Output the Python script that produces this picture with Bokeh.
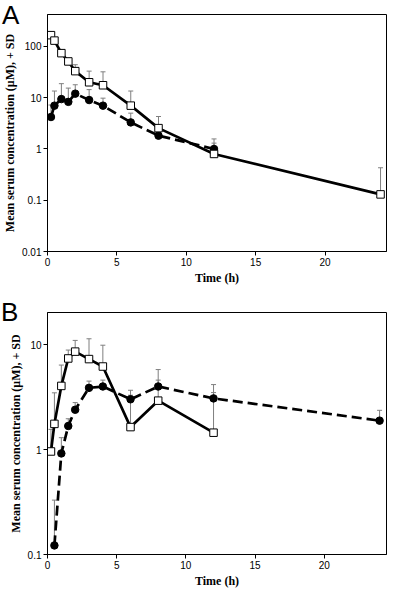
from bokeh.plotting import figure
from bokeh.models import (Range1d, FixedTicker, CustomJSTickFormatter, Whisker,
                          TeeHead, ColumnDataSource, Div)
from bokeh.layouts import column
from bokeh.embed import file_html
from bokeh.resources import INLINE

# ---------------- data ----------------
x_ticks = [0, 5, 10, 15, 20]

# Panel A
a_y_ticks = [0.01, 0.1, 1, 10, 100]
a_sq_t = [0.25, 0.5, 1, 1.5, 2, 3, 4, 6, 8, 12, 24]
a_sq_mean = [166, 130, 74, 51, 33, 20, 17.5, 7.0, 2.55, 0.8, 0.13]
a_sq_upper = [180, 145, 85, 58, 44, 33, 32, 13.5, 4.3, 1.57, 0.43]
a_ci_t = [0.25, 0.5, 1, 1.5, 2, 3, 4, 6, 8, 12]
a_ci_mean = [4.2, 7.0, 9.4, 8.3, 12.0, 9.0, 7.0, 3.3, 1.82, 1.0]
a_ci_upper = [7.2, 13.5, 18.8, 15.4, 17.9, 14.4, 9.8, 5.0, 2.2, 1.3]

# Panel B
b_y_ticks = [0.1, 1, 10]
b_sq_t = [0.25, 0.5, 1, 1.5, 2, 3, 4, 6, 8, 12]
b_sq_mean = [0.96, 1.76, 4.05, 7.4, 8.6, 7.3, 6.2, 1.64, 2.93, 1.45]
b_sq_upper = [1.56, 3.48, 6.4, 8.9, 11.0, 11.4, 9.9, 3.68, 5.8, 4.17]
b_ci_t = [0.5, 1, 1.5, 2, 3, 4, 6, 8, 12, 24]
b_ci_mean = [0.122, 0.92, 1.68, 2.4, 3.88, 4.0, 3.02, 4.0, 3.08, 1.89]
b_ci_upper = [0.33, 1.3, 1.97, 2.81, 4.5, 4.6, 3.3, 4.6, 3.5, 2.37]

Y_TITLE = "Mean serum concentration (\u03bcM), + SD"
X_TITLE = "Time (h)"
WIDTH = 399


def make_panel(height, borders, xmax, yr, yticks,
               sq_t, sq_m, sq_u, ci_t, ci_m, ci_u):
    top, bottom, left, right = borders
    p = figure(width=WIDTH, height=height, y_axis_type="log",
               x_range=Range1d(0, xmax), y_range=Range1d(*yr),
               output_backend="svg", toolbar_location=None,
               min_border_top=top, min_border_bottom=bottom,
               min_border_left=left, min_border_right=right,
               background_fill_color="white", border_fill_color="white")
    p.outline_line_color = "black"
    p.outline_line_width = 1
    p.grid.visible = False

    for ax in (p.xaxis[0], p.yaxis[0]):
        ax.axis_line_color = "black"
        ax.major_tick_line_color = "black"
        ax.major_tick_out = 4
        ax.major_tick_in = 0
        ax.minor_tick_line_color = None
        ax.major_label_text_font = "Liberation Sans"
        ax.major_label_text_font_size = "10px"
        ax.major_label_text_color = "black"
        ax.major_label_standoff = 2
        ax.axis_label_text_font = "Liberation Serif"
        ax.axis_label_text_font_style = "bold"
        ax.axis_label_text_font_size = "12px"
        ax.axis_label_text_color = "black"
        ax.axis_label_standoff = 2

    p.xaxis.ticker = FixedTicker(ticks=x_ticks, minor_ticks=[])
    p.yaxis.ticker = FixedTicker(ticks=yticks, minor_ticks=[])
    p.yaxis.formatter = CustomJSTickFormatter(code="return tick.toString();")
    p.xaxis.axis_label = X_TITLE
    p.yaxis.axis_label = Y_TITLE

    sq = ColumnDataSource(dict(t=sq_t, m=sq_m, u=sq_u))
    ci = ColumnDataSource(dict(t=ci_t, m=ci_m, u=ci_u))

    for src in (sq, ci):
        w = Whisker(base="t", lower="m", upper="u", source=src,
                    dimension="height", line_color="#7f7f7f", line_width=1,
                    upper_head=TeeHead(size=5, line_color="#7f7f7f", line_width=1),
                    lower_head=None, level="underlay")
        p.add_layout(w)

    p.line("t", "m", source=ci, line_color="black", line_width=2.7,
           line_dash="10 5")
    p.line("t", "m", source=sq, line_color="black", line_width=2.7)
    p.scatter("t", "m", source=ci, marker="circle", size=7.5,
              fill_color="black", line_color="black")
    p.scatter("t", "m", source=sq, marker="square", size=7.5,
              fill_color="white", line_color="black", line_width=1)
    return p


def letter_div(letter, fig_height, line_top, left):
    # overlay a panel letter on the top-left corner of the preceding figure
    h = 30
    mt = line_top - fig_height
    mb = -mt - h
    return Div(text=letter, width=30, height=h, margin=(mt, 0, mb, left),
               styles={"font-family": "Liberation Sans", "font-size": "26px",
                       "line-height": "30px", "color": "black",
                       "pointer-events": "none"})


HA, HB = 287, 303
pA = make_panel(HA, (14, 36, 47, 13), 24.43, (0.01, 420), a_y_ticks,
                a_sq_t, a_sq_mean, a_sq_upper, a_ci_t, a_ci_mean, a_ci_upper)
pB = make_panel(HB, (25, 34, 43, 1), 24.5, (0.1, 20.3), b_y_ticks,
                b_sq_t, b_sq_mean, b_sq_upper, b_ci_t, b_ci_mean, b_ci_upper)

dA = letter_div("A", HA, 0, 2)
dB = letter_div("B", HB, 10, 1)

layout = column(pA, dA, pB, dB, spacing=0)
open("out.html", "w").write(file_html(layout, INLINE))
